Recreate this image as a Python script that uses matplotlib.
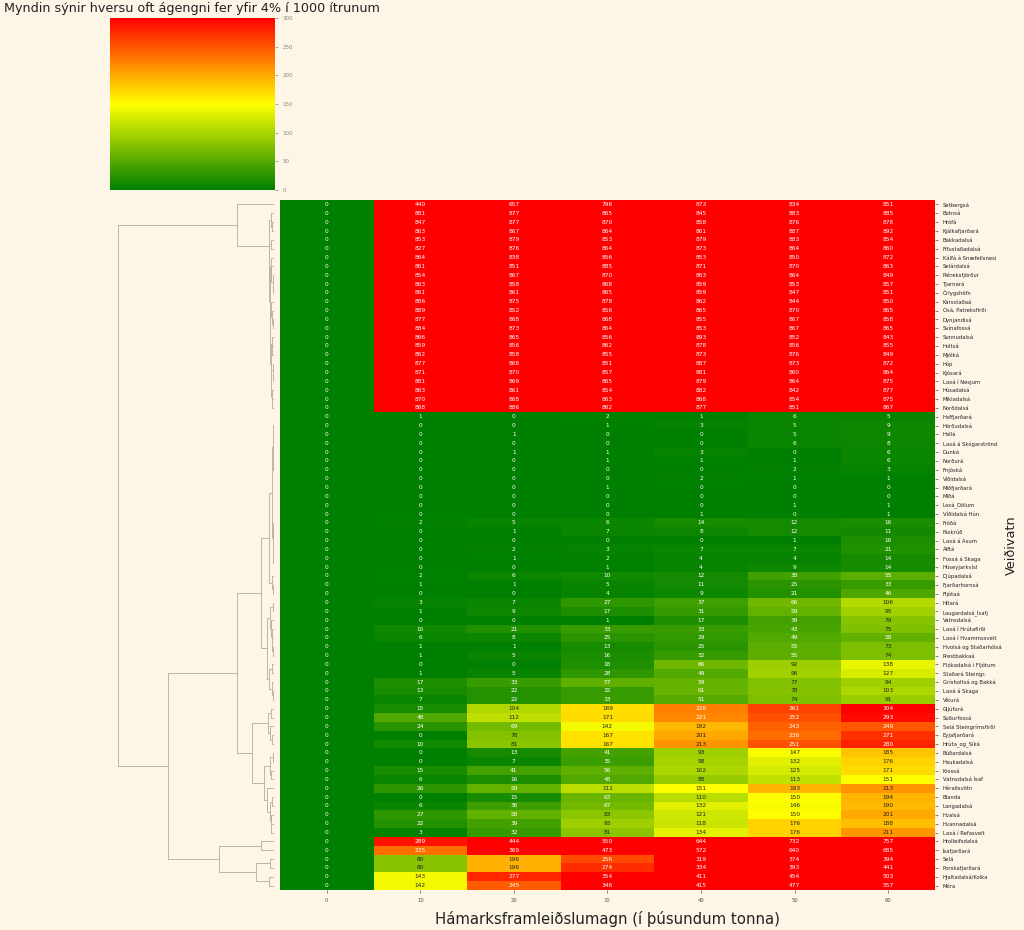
import numpy as np
import pandas as pd
import matplotlib
matplotlib.use("Agg")
import matplotlib.pyplot as plt
import seaborn as sns
from matplotlib.colors import LinearSegmentedColormap
from matplotlib.collections import LineCollection

rivers = [
    "Setbergsá", "Botnsá", "Hrófá", "Kjálkafjarðará", "Bakkadalsá", "Fífustaðadalsá",
    "Kálfá á Snæfellsnesi", "Selárdalsá", "Patreksfjörður", "Tjarnará", "Örlygshöfn",
    "Kársstaðaá", "Ósá, Patreksfirði", "Dynjandisá", "Svínafossá", "Sunnudalsá", "Holtsá",
    "Mjólká", "Hóp", "Kjósará", "Laxá í Nesjum", "Húsadalsá", "Mikladalsá", "Norðdalsá",
    "Haffjarðará", "Hörðudalsá", "Hallá", "Laxá á Skógarströnd", "Dunká", "Norðurá",
    "Fnjóská", "Víðidalsá", "Miðfjarðará", "Miðá", "Laxá_Dölum", "Víðidalsá Hún",
    "Fróðá", "Fáskrúð", "Laxá á Ásum", "Álftá", "Fossá á Skaga", "Húseyjarkvísl",
    "Djúpadalsá", "Fjarðarhornsá", "Fljótaá", "Hítará", "Laugardalsá_Ísafj", "Vatnsdalsá",
    "Laxá í Hrútafirði", "Laxá í Hvammssveit", "Hvolsá og Staðarhólsá", "Prestbakkaá",
    "Flókadalsá í Fljótum", "Staðará Steingr.", "Grísholtsá og Bakká", "Laxá á Skaga",
    "Víkurá", "Gljúfurá", "Suðurfossá", "Selá Steingrímsfirði", "Eyjafjarðará",
    "Hrúta_og_Síká", "Búðardalsá", "Haukadalsá", "Krossá", "Vatnsdalsá Ísaf",
    "Héraðsvötn", "Blanda", "Langadalsá", "Hvalsá", "Hvannadalsá", "Laxá í Refasveit",
    "Hrolleifsdalsá", "Ísafjarðará", "Selá", "Þorskafjarðará", "Hjaltadalsá/Kolka", "Móra",
]

capacity = [0, 10, 20, 30, 40, 50, 60]

# how often (of 1000 runs) the infestation goes over 4%, one list per capacity
over_0 = [
    0, 0, 0, 0, 0, 0, 0, 0, 0, 0, 0, 0, 0, 0, 0, 0, 0, 0, 0, 0, 0, 0, 0, 0,
    0, 0, 0, 0, 0, 0, 0, 0, 0, 0, 0, 0, 0, 0, 0, 0, 0, 0, 0, 0, 0, 0, 0, 0,
    0, 0, 0, 0, 0, 0, 0, 0, 0, 0, 0, 0, 0, 0, 0, 0, 0, 0, 0, 0, 0, 0, 0, 0,
    0, 0, 0, 0, 0, 0,
]
over_10 = [
    440, 881, 847, 863, 853, 827, 864, 861, 854, 863, 861, 886, 889, 877, 884, 866, 859, 862,
    877, 871, 881, 863, 870, 868,
    1, 0, 0, 0, 0, 0, 0, 0, 0, 0, 0, 0,
    2, 0, 0, 0, 0, 0, 2, 1, 0,
    3, 1, 0, 10, 6, 1, 1,
    0, 1, 17, 13, 7,
    15, 48, 24, 0, 10,
    0, 0, 15, 6,
    26, 0, 6, 27, 22, 3,
    289, 235, 80, 80, 143, 142,
]
over_20 = [
    657, 877, 877, 867, 879, 876, 838, 851, 867, 858, 861, 875, 852, 868, 873, 865, 856, 858,
    868, 870, 869, 861, 868, 886,
    0, 0, 1, 0, 1, 0, 0, 0, 0, 0, 0, 0,
    5, 1, 0, 2, 1, 0, 6, 1, 0,
    7, 9, 0, 21, 8, 1, 5,
    0, 5, 33, 22, 22,
    104, 112, 69, 78, 81,
    13, 7, 41, 16,
    59, 15, 36, 58, 39, 32,
    444, 369, 196, 196, 277, 245,
]
over_30 = [
    796, 865, 870, 864, 853, 864, 856, 885, 870, 868, 865, 878, 856, 868, 864, 856, 862, 855,
    851, 857, 865, 854, 863, 862,
    2, 1, 0, 0, 1, 1, 0, 0, 1, 0, 0, 0,
    6, 7, 0, 3, 2, 1, 10, 5, 4,
    27, 17, 1, 33, 25, 13, 16,
    18, 28, 57, 32, 33,
    169, 171, 142, 167, 167,
    41, 35, 56, 48,
    111, 63, 67, 83, 93, 81,
    550, 473, 256, 274, 354, 346,
]
over_40 = [
    873, 845, 858, 861, 879, 873, 853, 871, 863, 859, 859, 862, 865, 855, 853, 893, 878, 873,
    887, 881, 879, 882, 868, 877,
    1, 3, 0, 0, 3, 1, 0, 2, 0, 0, 0, 1,
    14, 8, 0, 7, 4, 4, 12, 11, 9,
    37, 31, 17, 33, 29, 25, 32,
    66, 49, 59, 61, 51,
    226, 221, 192, 201, 213,
    93, 98, 102, 88,
    151, 110, 132, 121, 118, 134,
    644, 572, 319, 334, 411, 415,
]
over_50 = [
    834, 883, 876, 887, 883, 864, 850, 870, 864, 853, 847, 844, 870, 867, 867, 852, 856, 876,
    873, 860, 864, 842, 854, 851,
    6, 5, 5, 6, 0, 1, 2, 1, 0, 0, 1, 0,
    12, 12, 1, 7, 4, 9, 38, 25, 21,
    66, 59, 39, 43, 49, 55, 55,
    92, 96, 77, 78, 74,
    261, 252, 243, 236, 251,
    147, 132, 125, 113,
    193, 150, 146, 150, 176, 176,
    732, 640, 374, 393, 454, 477,
]
over_60 = [
    851, 885, 878, 892, 854, 860, 872, 863, 849, 857, 851, 850, 865, 858, 865, 843, 855, 849,
    872, 864, 875, 877, 875, 867,
    5, 9, 9, 8, 6, 6, 3, 1, 0, 0, 1, 1,
    16, 11, 16, 21, 14, 14, 55, 33, 46,
    106, 95, 79, 75, 58, 73, 74,
    138, 127, 94, 103, 91,
    304, 293, 249, 271, 280,
    185, 176, 171, 151,
    213, 194, 190, 201, 188, 211,
    757, 685, 394, 441, 503, 557,
]

df = pd.DataFrame(
    np.array([over_0, over_10, over_20, over_30, over_40, over_50, over_60]).T,
    index=rivers, columns=capacity)


def complete_linkage(data):
    """Complete linkage on euclidean distances; returns the U-shaped links of
    the tree with leaves placed in the row order of the heatmap."""
    n = len(data)
    d = np.sqrt(((data[:, None, :] - data[None, :, :]) ** 2).sum(-1))
    np.fill_diagonal(d, np.inf)
    pos = np.arange(n) + 0.5
    height = np.zeros(n)
    links = []
    h = 0.0
    for _ in range(n - 1):
        a, b = np.unravel_index(np.argmin(d), d.shape)
        h = d[a, b]
        links.append([(height[a], pos[a]), (h, pos[a]), (h, pos[b]), (height[b], pos[b])])
        new = np.maximum(d[a], d[b])
        d[a, :] = new
        d[:, a] = new
        d[a, a] = np.inf
        d[b, :] = np.inf
        d[:, b] = np.inf
        pos[a] = (pos[a] + pos[b]) / 2
        height[a] = h
    return links, h


bg = "#fdf5e6"
cmap = LinearSegmentedColormap.from_list("gyr", ["green", "yellow", "red"])

fig = plt.figure(figsize=(10.24, 9.3), dpi=100, facecolor=bg)
ax = fig.add_axes([0.2734, 0.0430, 0.6396, 0.7419])
ax_den = fig.add_axes([0.1074, 0.0430, 0.1602, 0.7419])
cax = fig.add_axes([0.1074, 0.7957, 0.161, 0.185])

sns.heatmap(df, ax=ax, cmap=cmap, vmin=0, vmax=300, annot=True, fmt="d",
            annot_kws={"size": 4.2}, cbar_ax=cax,
            xticklabels=capacity, yticklabels=rivers)

ax.yaxis.tick_right()
ax.yaxis.set_label_position("right")
ax.tick_params(axis="both", length=2, width=0.5, colors="#555555", labelsize=3.8)
ax.tick_params(axis="y", labelcolor="#222222")
plt.setp(ax.get_yticklabels(), rotation=0)
plt.setp(ax.get_xticklabels(), rotation=0)
ax.set_ylabel("Veiðivatn", fontsize=9.3, color="#222222")
ax.yaxis.set_label_coords(1.107, 0.5)
ax.set_xlabel("Hámarksframleiðslumagn (í þúsundum tonna)", fontsize=10.7,
              color="#222222", labelpad=6)

# row dendrogram
links, top = complete_linkage(df.values.astype(float))
ax_den.add_collection(LineCollection(links, colors="#bdb6a8", linewidths=0.7))
ax_den.set_xlim(top * 1.05, 0)
ax_den.set_ylim(len(rivers), 0)
ax_den.axis("off")

cax.tick_params(labelsize=4, colors="#888888", length=2, width=0.5)
cax.set_yticks([0, 50, 100, 150, 200, 250, 300])
cbar = ax.collections[0].colorbar
if cbar is not None:
    cbar.outline.set_edgecolor("#cfe3c0")
cax.set_title("Myndin sýnir hversu oft ágengni fer yfir 4% í 1000 ítrunum",
              fontsize=9.2, color="#222222", pad=4)

fig.savefig("out.png", dpi=100, facecolor=bg)
